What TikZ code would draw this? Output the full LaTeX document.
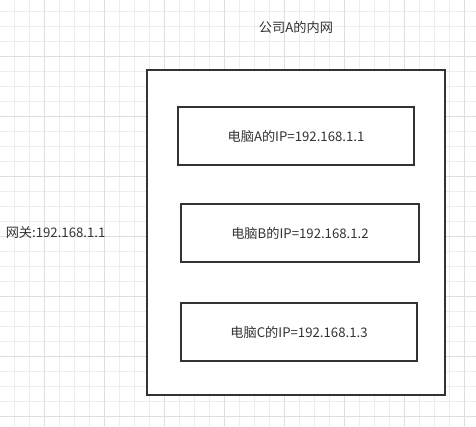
\documentclass[tikz,border=0pt]{standalone}
\usepackage{fontspec}
\setmainfont{Noto Sans CJK SC}
\definecolor{gridlight}{HTML}{EDEDED}
\definecolor{griddark}{HTML}{DEDEDE}
\definecolor{boxline}{HTML}{333333}
\definecolor{labeltext}{HTML}{333333}

\begin{document}
\begin{tikzpicture}[x=0.75pt,y=-0.75pt,
  every node/.style={font=\fontsize{9.9}{12}\selectfont,text=labeltext},
  netbox/.style={draw=boxline,line width=1.5pt,inner sep=0pt},
  pcbox/.style={netbox,minimum width=177pt,minimum height=43.5pt}]
  \useasboundingbox (0,0) rectangle (476,426);
  \fill[white] (0,0) rectangle (476,426);
  \foreach \gx in {14.3,29.3,...,476} \draw[gridlight,line width=0.75pt] (\gx,0) -- (\gx,426);
  \foreach \gy in {11,26,...,426} \draw[gridlight,line width=0.75pt] (0,\gy) -- (476,\gy);
  \foreach \gx in {44.3,104.3,...,476} \draw[griddark,line width=0.75pt] (\gx,0) -- (\gx,426);
  \foreach \gy in {56,116,...,426} \draw[griddark,line width=0.75pt] (0,\gy) -- (476,\gy);

  \node[netbox,fill=white,minimum width=224pt,minimum height=243.75pt] (lan) at (296,232.5) {};
  \node (lantitle) at (296,27.3) {公司A的内网};
  \node[anchor=west,inner sep=0pt] (gateway) at (5.5,232.7) {网关:192.168.1.1};

  \node[pcbox] (pcA) at (296,136) {电脑A的IP=192.168.1.1};
  \node[pcbox,minimum width=178.5pt] (pcB) at (300,233.3) {电脑B的IP=192.168.1.2};
  \node[pcbox] (pcC) at (299,332) {电脑C的IP=192.168.1.3};
\end{tikzpicture}
\end{document}
